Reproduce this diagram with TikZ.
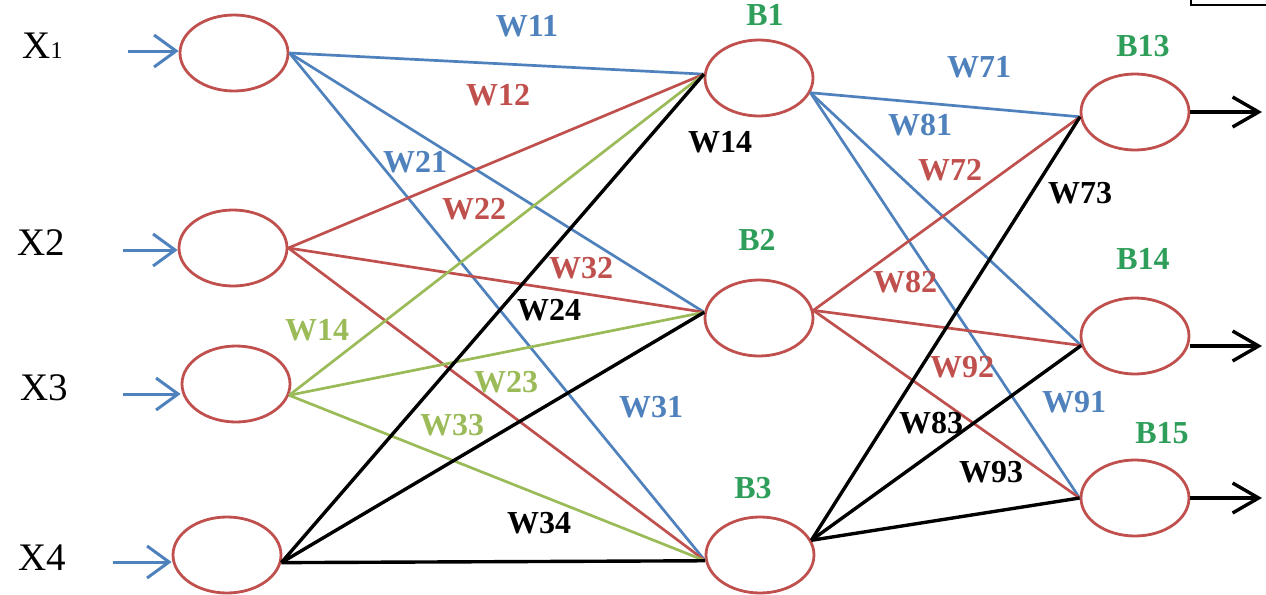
\documentclass[tikz,border=0pt]{standalone}
\usepackage{fontspec}
\setmainfont{Liberation Serif}
\newfontfamily\bsf{Liberation Serif Bold}
\usetikzlibrary{shapes.geometric,arrows.meta}
\definecolor{cblue}{HTML}{4F81BD}
\definecolor{cred}{HTML}{C0504D}
\definecolor{cgreen}{HTML}{9BBB59}
\definecolor{cbl}{HTML}{2E9E5A}
\begin{document}
\begin{tikzpicture}[x=0.5pt,y=-0.5pt,
  neuron/.style={ellipse,draw=cred,line width=1.4pt,minimum width=54pt,minimum height=38pt,inner sep=0pt},
  xlab/.style={font=\fontsize{19.5}{19.5}\selectfont,text=black,inner sep=0pt},
  wl/.style={font=\bsf\fontsize{16}{16}\selectfont,inner sep=0pt},
  bl/.style={wl,text=cbl},
  wire/.style={line width=1.35pt},
  bwire/.style={line width=1.7pt,black},
  inarrow/.style={cblue,line width=1.5pt,-{Straight Barb[length=11pt,width=16pt,line width=1.5pt]}},
  outarrow/.style={black,line width=1.8pt,-{Straight Barb[length=13pt,width=15pt,line width=1.7pt]}}]
\useasboundingbox (0,0) rectangle (1266,595);
% corner box
\draw[line width=0.8pt] (1191,-3) -- (1191,5) -- (1270,5);
% neurons
\node[neuron] (x1) at (234,53) {};
\node[neuron] (x2) at (233,248) {};
\node[neuron] (x3) at (236,384) {};
\node[neuron] (x4) at (227,555) {};
\node[neuron] (b1) at (759,78) {};
\node[neuron] (b2) at (759,318) {};
\node[neuron] (b3) at (760,555) {};
\node[neuron] (b13) at (1135,112) {};
\node[neuron] (b14) at (1135,336) {};
\node[neuron] (b15) at (1135,498) {};
% input labels
\node[xlab,anchor=west] (lx1) at (22,46) {X{\fontsize{12}{12}\selectfont 1}};
\node[xlab,anchor=west] (lx2) at (17,243) {X2};
\node[xlab,anchor=west] (lx3) at (20,388) {X3};
\node[xlab,anchor=west] (lx4) at (18,558) {X4};
% input arrows
\coordinate (i1) at (128,51);
\coordinate (i2) at (123,250);
\coordinate (i3) at (123,394);
\coordinate (i4) at (113,562);
\draw[inarrow] (i1) -- (x1.west |- i1);
\draw[inarrow] (i2) -- (x2.west |- i2);
\draw[inarrow] (i3) -- (x3.west |- i3);
\draw[inarrow] (i4) -- (x4.west |- i4);
% layer 1 -> 2
\draw[wire,cblue] (x1.east) -- (b1.176);
\draw[wire,cblue] (x1.east) -- (b2.174);
\draw[wire,cblue] (x1.east) -- (b3.186);
\draw[wire,cred] (x2.east) -- (b1.176);
\draw[wire,cred] (x2.east) -- (b2.174);
\draw[wire,cred] (x2.east) -- (b3.186);
\draw[wire,cgreen] (x3.-12) -- (b1.176);
\draw[wire,cgreen] (x3.-12) -- (b2.174);
\draw[wire,cgreen] (x3.-12) -- (b3.186);
\draw[bwire] (x4.-8) -- (b1.176);
\draw[bwire] (x4.-8) -- (b2.174);
\draw[bwire] (x4.-8) -- (b3.186);
% layer 2 -> 3
\draw[wire,cblue] (b1.-16) -- (b13.185);
\draw[wire,cblue] (b1.-16) -- (b14.190);
\draw[wire,cblue] (b1.-16) -- (b15.west);
\draw[wire,cred] (b2.8) -- (b13.185);
\draw[wire,cred] (b2.8) -- (b14.190);
\draw[wire,cred] (b2.8) -- (b15.west);
\draw[bwire] (b3.16) -- (b13.185);
\draw[bwire] (b3.16) -- (b14.190);
\draw[bwire] (b3.16) -- (b15.west);
% outputs
\coordinate (o13) at (1262,114);
\coordinate (o14) at (1262,346);
\coordinate (o15) at (1262,500);
\draw[outarrow] (b13.east) -- (b13.east -| o13);
\draw[outarrow] (b14.east |- o14) -- (o14);
\draw[outarrow] (b15.east) -- (b15.east -| o15);
% bias labels
\node[bl] (lb1) at (765,15) {B1};
\node[bl] (lb2) at (757,240) {B2};
\node[bl] (lb3) at (753,488) {B3};
\node[bl] (lb13) at (1143,46) {B13};
\node[bl] (lb14) at (1143,259) {B14};
\node[bl] (lb15) at (1162,433) {B15};
% weight labels
\node[wl,text=cblue] (w11) at (527,26) {W11};
\node[wl,text=cred] (w12) at (498,95) {W12};
\node[wl,text=black] (w14a) at (720,142) {W14};
\node[wl,text=cblue] (w21) at (415,162) {W21};
\node[wl,text=cred] (w22) at (474,209) {W22};
\node[wl,text=cred] (w32) at (581,268) {W32};
\node[wl,text=black] (w24) at (549,310) {W24};
\node[wl,text=cgreen] (w14b) at (317,330) {W14};
\node[wl,text=cgreen] (w23) at (506,382) {W23};
\node[wl,text=cgreen] (w33) at (452,425) {W33};
\node[wl,text=cblue] (w31) at (651,407) {W31};
\node[wl,text=black] (w34) at (539,523) {W34};
\node[wl,text=cblue] (w71) at (979,67) {W71};
\node[wl,text=cblue] (w81) at (920,125) {W81};
\node[wl,text=cred] (w72) at (950,170) {W72};
\node[wl,text=black] (w73) at (1080,193) {W73};
\node[wl,text=cred] (w82) at (905,282) {W82};
\node[wl,text=cred] (w92) at (962,367) {W92};
\node[wl,text=cblue] (w91) at (1074,402) {W91};
\node[wl,text=black] (w83) at (931,423) {W83};
\node[wl,text=black] (w93) at (991,472) {W93};
\end{tikzpicture}
\end{document}
